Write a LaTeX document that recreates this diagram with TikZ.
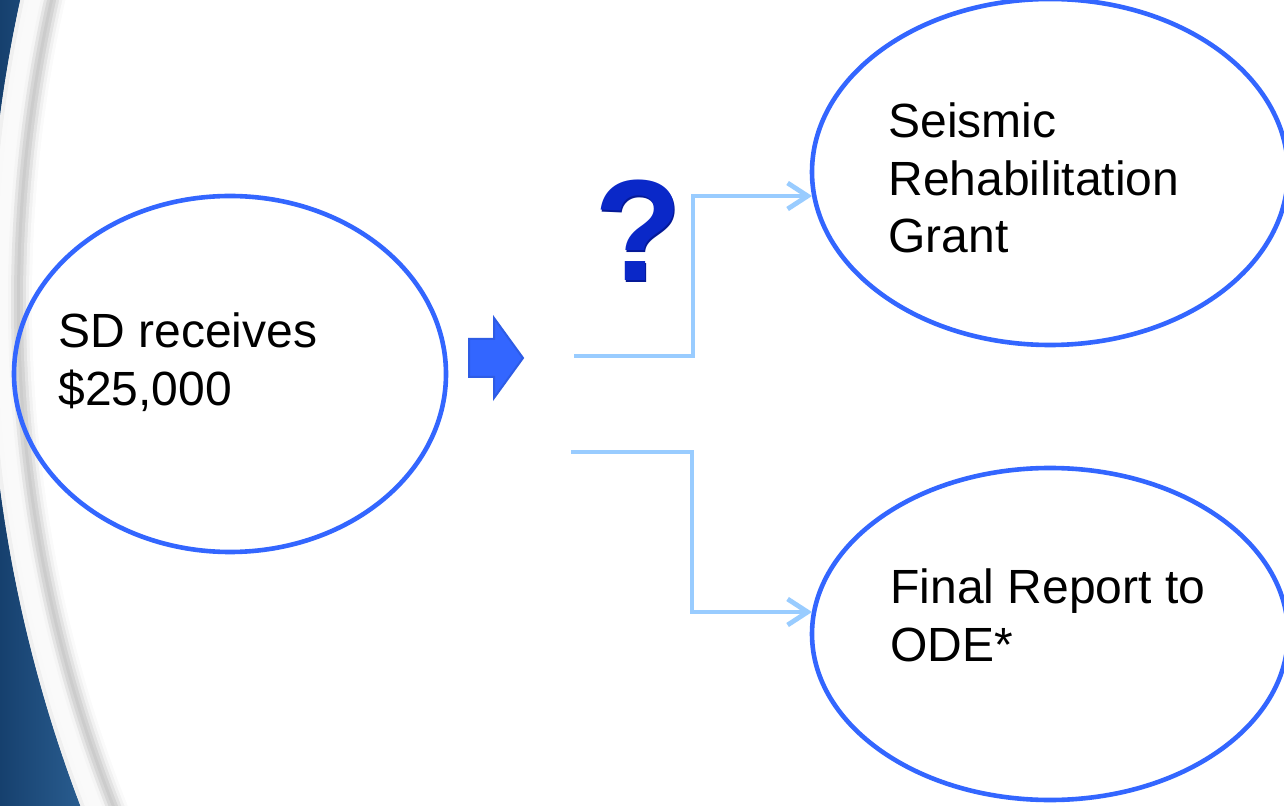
\documentclass[tikz,border=0pt]{standalone}
\usepackage{fontspec}
\setmainfont{Liberation Sans}
\usetikzlibrary{shapes.geometric,arrows.meta}
\definecolor{ringblue}{RGB}{51,102,255}
\definecolor{linkblue}{RGB}{153,204,255}
\definecolor{qblue}{RGB}{10,40,200}
\definecolor{qdark}{RGB}{5,25,150}
\definecolor{bgdark}{RGB}{22,64,110}
\definecolor{bglight}{RGB}{60,120,175}
\tikzset{
  oval/.style={ellipse, draw=ringblue, line width=2.3pt, inner sep=0pt},
  link/.style={draw=linkblue, line width=2.4pt, -{Straight Barb[length=10pt,width=13pt,line width=2.4pt]}},
  label/.style={anchor=base west, inner sep=0pt, font=\fontsize{24pt}{29pt}\selectfont, text=black},
}
\begin{document}
\begin{tikzpicture}[x=0.5pt,y=-0.5pt]
\useasboundingbox (0,0) rectangle (1284,806);
% background
\clip (0,0) rectangle (1284,806);
\shade[left color=bgdark, right color=bglight] (0,0) rectangle (160,806);
\fill[white!96!gray] (1400,302) circle [radius=1412];
\foreach \r/\g in {1410/12,1406/5,1390/8,1387/20,1384/32,1381/40,1378/34,1375/22,1372/11,1369/4}
  \draw[white!\the\numexpr100-\g\relax!gray, line width=2pt] (1400,302) circle [radius=\r];
\fill[white] (1400,302) circle [radius=1368];

% ovals
\node[oval, minimum width=216pt, minimum height=178pt] (sd) at (230,374) {};
\node[oval, minimum width=238pt, minimum height=173pt] (grant) at (1050,172) {};
\node[oval, minimum width=238pt, minimum height=166pt] (report) at (1050,634) {};

% texts
\node[label] (sdt1) at (58,348) {SD receives};
\node[label] (sdt2) at (58,406) {\$25,000};
\node[label] (gt1) at (888,138) {Seismic};
\node[label] (gt2) at (888,196) {Rehabilitation};
\node[label] (gt3) at (888,253) {Grant};
\node[label] (rt1) at (890,603) {Final Report to};
\node[label] (rt2) at (890,661) {ODE*};

% block arrow
\filldraw[fill=ringblue, draw=ringblue!90!black, line width=1pt]
  (469,339) -- (494,339) -- (494,318) -- (523,358) -- (494,398) -- (494,377) -- (469,377) -- cycle;

% question mark
\node[inner sep=0pt, anchor=base, text=qdark, font=\bfseries\fontsize{72pt}{72pt}\selectfont] (qs) at (639.5,282.5) {?};
\node[inner sep=0pt, anchor=base, text=qblue, font=\bfseries\fontsize{72pt}{72pt}\selectfont] (q) at (638,281) {?};

% connectors
\coordinate (s1) at (574,356);
\coordinate (s2) at (571,452);
\coordinate (e1) at (812,196);
\coordinate (e2) at (812,612);
\draw[link] (s1) -- (693,356) -- (693,196) -- (e1);
\draw[link] (s2) -- (692,452) -- (692,612) -- (e2);
\end{tikzpicture}
\end{document}
